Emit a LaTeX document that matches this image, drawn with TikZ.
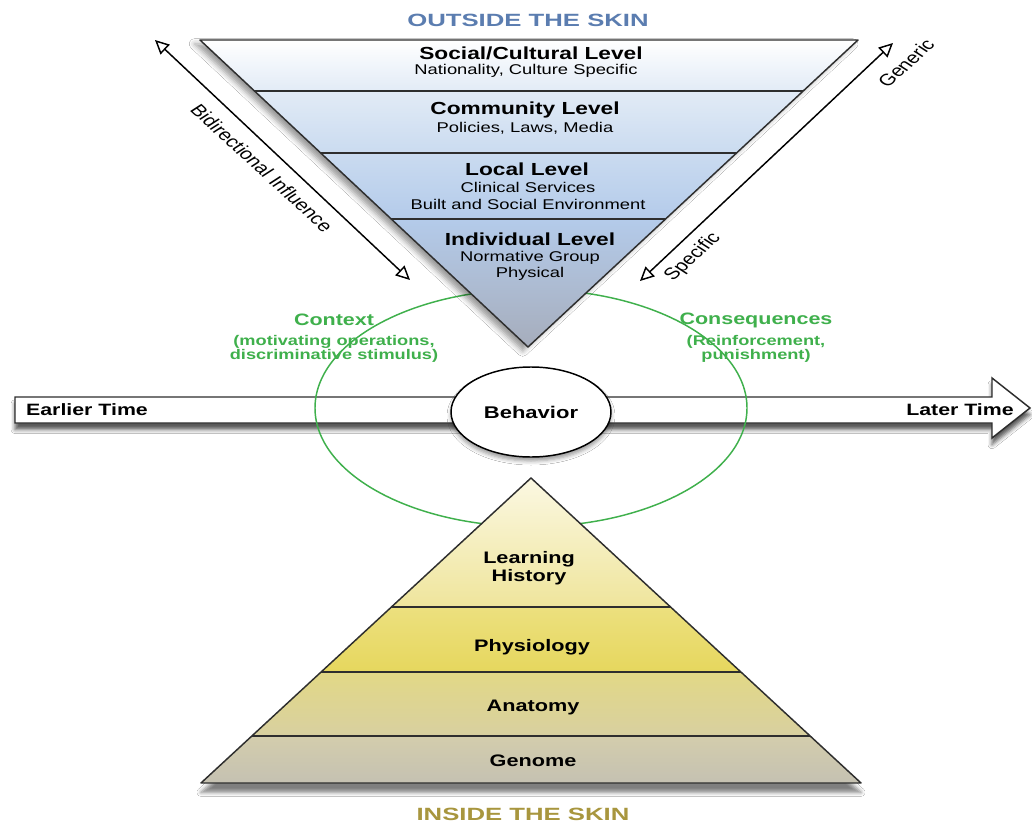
\documentclass[tikz,border=0pt]{standalone}
\usepackage{fontspec}
\setmainfont{Liberation Sans}
\usepackage{graphicx}
\usetikzlibrary{arrows.meta,shapes.geometric,shadows.blur,calc}
\definecolor{ttlblue}{HTML}{5B7DB0}
\definecolor{goldtxt}{HTML}{A8963E}
\definecolor{grn}{HTML}{3FB04C}
\definecolor{edge}{HTML}{2E2E2E}
\definecolor{bA}{HTML}{FFFFFF}
\definecolor{bB}{HTML}{E2EBF6}
\definecolor{bC}{HTML}{CADBF0}
\definecolor{bD}{HTML}{B4CBEA}
\definecolor{bE}{HTML}{AEC0DC}
\definecolor{bF}{HTML}{A6ADBC}
\definecolor{pA}{HTML}{FBF8E2}
\definecolor{pB}{HTML}{EFE59C}
\definecolor{pC}{HTML}{ECE07E}
\definecolor{pD}{HTML}{E6D75E}
\definecolor{pE}{HTML}{E2D886}
\definecolor{pF}{HTML}{D8D0A0}
\definecolor{pG}{HTML}{D3CDAC}
\definecolor{pH}{HTML}{C5C1B2}
\newcommand{\sxw}[1]{\scalebox{1.3}[1]{#1}}
\newcommand{\sxt}[1]{\scalebox{1.45}[1]{#1}}
\begin{document}
\begin{tikzpicture}[x=0.75pt,y=-0.75pt,
  hdr/.style={font=\bfseries\fontsize{13.1}{14}\selectfont, inner sep=0pt, align=center},
  subl/.style={font=\fontsize{10.6}{12.5}\selectfont, inner sep=0pt, align=center},
  ttl/.style={font=\bfseries\fontsize{13.3}{15}\selectfont, inner sep=0pt},
  gtxt/.style={text=grn, font=\bfseries\fontsize{12.4}{14}\selectfont, inner sep=0pt, align=center},
  gsub/.style={text=grn, font=\bfseries\fontsize{10.5}{10.8}\selectfont, inner sep=0pt, align=center},
  rlbl/.style={font=\fontsize{12.3}{14}\selectfont, inner sep=0pt},
  plbl/.style={font=\bfseries\fontsize{12.5}{13.5}\selectfont, inner sep=0pt, align=center},
  tlbl/.style={font=\bfseries\fontsize{12.3}{14}\selectfont, inner sep=0pt},
  bandline/.style={draw=edge, line width=0.9pt},
  outline/.style={draw=edge, line width=1.1pt, line join=round},
  dblarrow/.style={draw=black, line width=1.1pt, {Triangle[fill=white,length=10.5pt,width=10pt]}-{Triangle[fill=white,length=10.5pt,width=10pt]}},
  greenring/.style={draw=grn, line width=1.1pt},
  timearrow/.style={fill=white, draw=edge, line width=1.1pt, line join=miter,
     blur shadow={shadow xshift=0pt, shadow yshift=-5pt, shadow opacity=65, shadow blur radius=3pt}},
  behav/.style={ellipse, draw=black, line width=1.1pt, fill=white, minimum width=120pt, minimum height=67.5pt, inner sep=0pt,
     font=\bfseries\fontsize{12.7}{14}\selectfont,
     blur shadow={shadow xshift=0pt, shadow yshift=-3pt, shadow opacity=40, shadow blur radius=3pt}}
]
\useasboundingbox (0,0) rectangle (1032,824);
\fill[white] (0,0) rectangle (1032,824);

% ---------- time arrow ----------
\draw[timearrow] (15,397) -- (992,397) -- (992,378) -- (1030,408) -- (992,438) -- (992,423) -- (15,423) -- cycle;
\node[tlbl] (early) at (87,410) {\sxw{Earlier Time}};
\node[tlbl] (late) at (960,410) {\sxw{Later Time}};

% ---------- green context ring ----------
\coordinate (ringc) at (531,408);
\draw[greenring] (ringc) ellipse [x radius=162pt, y radius=89pt];

% ---------- behavior ----------
\node[behav] (behavior) at (531,412) {\sxw{Behavior}};

% ---------- inverted triangle (outside the skin) ----------
\coordinate (TL) at (200,40);
\coordinate (TR) at (858,40);
\coordinate (AP) at (528,347);
\coordinate (L1) at ($(TL)!0.166!(AP)$);
\coordinate (R1) at ($(TR)!0.166!(AP)$);
\coordinate (L2) at ($(TL)!0.368!(AP)$);
\coordinate (R2) at ($(TR)!0.368!(AP)$);
\coordinate (L3) at ($(TL)!0.583!(AP)$);
\coordinate (R3) at ($(TR)!0.583!(AP)$);
\path[blur shadow={shadow xshift=-4pt, shadow yshift=-3pt, shadow opacity=40, shadow blur radius=4pt}] (TL) -- (TR) -- (AP) -- cycle;
\shade[top color=bA, bottom color=bB] (TL) -- (TR) -- (R1) -- (L1) -- cycle;
\shade[top color=bB, bottom color=bC] (L1) -- (R1) -- (R2) -- (L2) -- cycle;
\shade[top color=bC, bottom color=bD] (L2) -- (R2) -- (R3) -- (L3) -- cycle;
\shade[top color=bD, middle color=bE, bottom color=bF] (L3) -- (R3) -- (AP) -- cycle;
\draw[bandline] (L1) -- (R1);
\draw[bandline] (L2) -- (R2);
\draw[bandline] (L3) -- (R3);
\draw[outline] (TL) -- (TR) -- (AP) -- cycle;

\node[ttl, text=ttlblue] (outside) at (528,20) {\sxt{OUTSIDE THE SKIN}};
\node[hdr] (social) at (531,53) {\sxw{Social/Cultural Level}};
\node[subl] (socialsub) at (526,71) {\sxw{Nationality, Culture Specific}};
\node[hdr] (community) at (525,110) {\sxw{Community Level}};
\node[subl] (communitysub) at (525,128) {\sxw{Policies, Laws, Media}};
\node[hdr] (local) at (527,169) {\sxw{Local Level}};
\node[subl] (localsub) at (528,196) {\sxw{Clinical Services}\\\sxw{Built and Social Environment}};
\node[hdr] (individual) at (530,239) {\sxw{Individual Level}};
\node[subl] (individualsub) at (530,266) {\sxw{Normative Group}\\\sxw{Physical}};

% ---------- side arrows ----------
\coordinate (la1) at (155,40);
\coordinate (la2) at (410,280);
\draw[dblarrow] (la1) -- (la2);
\node[rlbl] (bidir) at (262,168) {\sxw{\rotatebox{-50}{Bidirectional Influence}}};
\coordinate (ra1) at (893,43);
\coordinate (ra2) at (640,281);
\draw[dblarrow] (ra1) -- (ra2);
\node[rlbl] (generic) at (906,63) {\sxw{\rotatebox{50}{Generic}}};
\node[rlbl] (specific) at (693,257) {\sxw{\rotatebox{50}{Specific}}};

% ---------- green labels ----------
\node[gtxt] (context) at (334,320) {\sxw{Context}};
\node[gsub] (contextsub) at (334,349) {\sxw{(motivating operations,}\\\sxw{discriminative stimulus)}};
\node[gtxt] (conseq) at (756,320) {\sxw{Consequences}};
\node[gsub] (conseqsub) at (756,349) {\sxw{(Reinforcement,}\\\sxw{punishment)}};

% ---------- pyramid (inside the skin) ----------
\coordinate (PA) at (531,478);
\coordinate (PL) at (201,783);
\coordinate (PR) at (861,783);
\coordinate (Q1) at ($(PA)!0.423!(PL)$);
\coordinate (S1) at ($(PA)!0.423!(PR)$);
\coordinate (Q2) at ($(PA)!0.636!(PL)$);
\coordinate (S2) at ($(PA)!0.636!(PR)$);
\coordinate (Q3) at ($(PA)!0.846!(PL)$);
\coordinate (S3) at ($(PA)!0.846!(PR)$);
\path[blur shadow={shadow xshift=0pt, shadow yshift=-7pt, shadow opacity=50, shadow blur radius=3pt}] (PA) -- (PR) -- (PL) -- cycle;
\shade[top color=pA, bottom color=pB] (PA) -- (S1) -- (Q1) -- cycle;
\shade[top color=pC, bottom color=pD] (Q1) -- (S1) -- (S2) -- (Q2) -- cycle;
\shade[top color=pE, bottom color=pF] (Q2) -- (S2) -- (S3) -- (Q3) -- cycle;
\shade[top color=pG, bottom color=pH] (Q3) -- (S3) -- (PR) -- (PL) -- cycle;
\draw[bandline] (Q1) -- (S1);
\draw[bandline] (Q2) -- (S2);
\draw[bandline] (Q3) -- (S3);
\draw[outline] (PA) -- (PR) -- (PL) -- cycle;

\node[plbl] (learning) at (529,568) {\sxw{Learning}\\\sxw{History}};
\node[plbl] (physiology) at (532,647) {\sxw{Physiology}};
\node[plbl] (anatomy) at (533,707) {\sxw{Anatomy}};
\node[plbl] (genome) at (533,761) {\sxw{Genome}};
\node[ttl, text=goldtxt] (inside) at (523,814) {\sxt{INSIDE THE SKIN}};
\end{tikzpicture}
\end{document}
